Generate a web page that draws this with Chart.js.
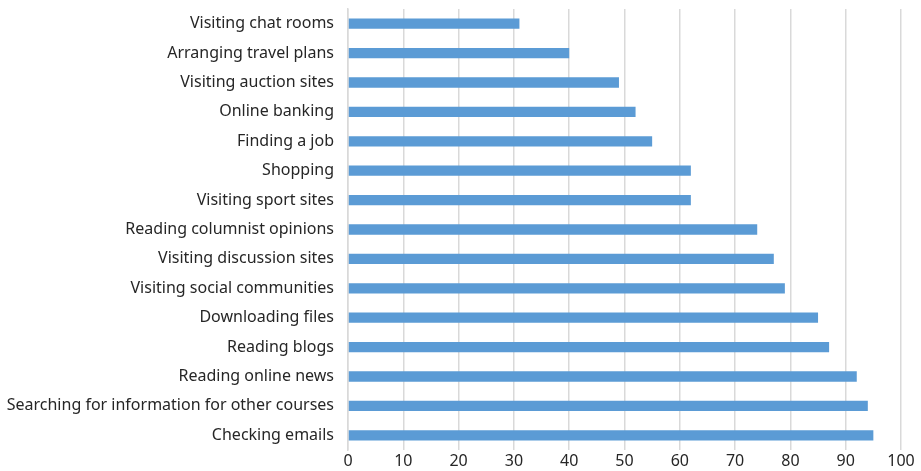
<!DOCTYPE html>
<html>
<head>
<meta charset="utf-8">
<script src="https://cdn.jsdelivr.net/npm/chart.js@4"></script>
<style>
  html, body { margin: 0; padding: 0; background: #ffffff; }
  #wrap { width: 921px; height: 471px; }
</style>
</head>
<body>
<div id="wrap"><canvas id="chart" width="921" height="471"></canvas></div>
<script>
var categories = [
  "Visiting chat rooms",
  "Arranging travel plans",
  "Visiting auction sites",
  "Online banking",
  "Finding a job",
  "Shopping",
  "Visiting sport sites",
  "Reading columnist opinions",
  "Visiting discussion sites",
  "Visiting social communities",
  "Downloading files",
  "Reading blogs",
  "Reading online news",
  "Searching for information for other courses",
  "Checking emails"
];
var values = [31, 40, 49, 52, 55, 62, 62, 74, 77, 79, 85, 87, 92, 94, 95];
var xMin = 0;
var xMax = 100;
var xStep = 10;

var yFont = { family: "'Noto Sans', 'Liberation Sans', sans-serif", size: 16 };
var xFont = { family: "'Noto Sans', 'Liberation Sans', sans-serif", size: 16 };

var chart = new Chart(document.getElementById('chart'), {
  type: 'bar',
  data: {
    labels: categories,
    datasets: [{
      label: 'Percent',
      data: values,
      backgroundColor: '#5b9bd5',
      borderWidth: 0,
      barPercentage: 0.35,
      categoryPercentage: 1
    }]
  },
  options: {
    indexAxis: 'y',
    responsive: false,
    animation: false,
    layout: { padding: { top: 9, right: 20, bottom: 0, left: 0 } },
    plugins: {
      legend: { display: false },
      tooltip: { enabled: false }
    },
    scales: {
      x: {
        min: xMin,
        max: xMax,
        ticks: { stepSize: xStep, color: '#262626', font: xFont, padding: 2 },
        grid: { color: '#d9d9d9', lineWidth: 1.5, drawTicks: false },
        border: { display: false },
        afterFit: function(scale){ scale.height = 21; }
      },
      y: {
        ticks: { color: '#262626', font: yFont, padding: 6 },
        grid: { display: false },
        border: { display: true, color: '#d9d9d9', width: 1.5 },
        afterFit: function(scale){
          scale.width = 348;
          scale.paddingTop = 0;
          scale.paddingBottom = 0;
        }
      }
    }
  }
});
</script>
</body>
</html>
